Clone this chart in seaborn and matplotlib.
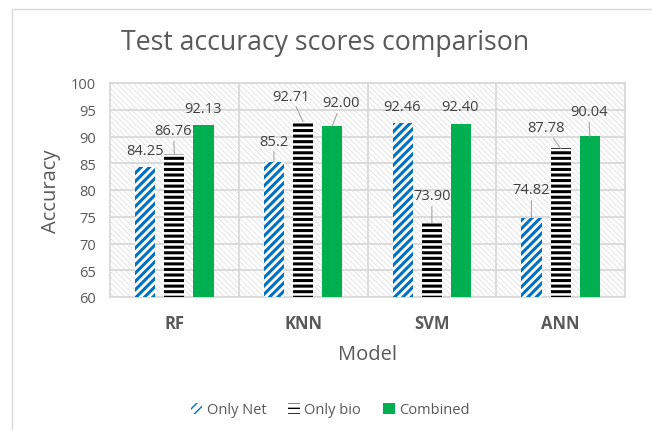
import pandas as pd
import seaborn as sns
import matplotlib.pyplot as plt
import matplotlib.patches as mpatches

models = ["RF", "KNN", "SVM", "ANN"]
series = ["Only Net", "Only bio", "Combined"]
only_net = [84.25, 85.2, 92.46, 74.82]
only_bio = [86.76, 92.71, 73.90, 87.78]
combined = [92.13, 92.00, 92.40, 90.04]
label_text = {
    "Only Net": ["84.25", "85.2", "92.46", "74.82"],
    "Only bio": ["86.76", "92.71", "73.90", "87.78"],
    "Combined": ["92.13", "92.00", "92.40", "90.04"],
}

df = pd.DataFrame({"Model": models * 3,
                   "Series": [s for s in series for _ in models],
                   "Accuracy": only_net + only_bio + combined})

# label offsets in pixels (dx, dy) from top centre of each bar, and leader flag
offsets = {
    "Only Net": [(0, 17, False), (0, 21, True), (-1, 17, False), (0, 28, True)],
    "Only bio": [(-1, 23, True), (-12, 26, True), (0, 27, True), (-15, 21, True)],
    "Combined": [(-1, 17, False), (9, 23, True), (-1, 17, False), (-1, 25, True)],
}

sns.set_style("white")
plt.rcParams['font.family'] = ['Open Sans', 'DejaVu Sans']
grey = "#595959"

fig = plt.figure(figsize=(6.52, 4.31), dpi=100)
ax = fig.add_axes([110 / 652, 1 - 298 / 431, (625 - 110) / 652, (298 - 84) / 431])

# hatched plot area background
with plt.rc_context({'hatch.linewidth': 0.5, 'hatch.color': '#dcdcdc'}):
    bg = mpatches.Rectangle((0, 0), 1, 1, transform=ax.transAxes, facecolor='white',
                            edgecolor='#dcdcdc', hatch='\\\\\\\\\\\\', lw=0, zorder=0)
    ax.add_patch(bg)

colors = {"Only Net": "white", "Only bio": "white", "Combined": "#00B050"}
sns.barplot(data=df, x="Model", y="Accuracy", hue="Series", order=models,
            hue_order=series, palette=colors, width=0.68, gap=0.31, saturation=1,
            ax=ax, legend=False, zorder=3, linewidth=0)

hatches = {"Only Net": "////", "Only bio": "---", "Combined": None}
edges = {"Only Net": "#0070C0", "Only bio": "black", "Combined": "#00B050"}
for cont, s in zip(ax.containers, series):
    for bar in cont:
        if hatches[s]:
            bar.set_hatch(hatches[s])
            bar.set_edgecolor(edges[s])
            bar.set_linewidth(0)
            try:
                bar.set_hatch_linewidth(2.2)
            except AttributeError:
                pass
    for i, bar in enumerate(cont):
        dx, dy, leader = offsets[s][i]
        x = bar.get_x() + bar.get_width() / 2
        y = bar.get_height()
        ax.annotate(label_text[s][i], xy=(x, y), xytext=(dx * 0.72, dy * 0.72),
                    textcoords='offset points', ha='center', va='center',
                    fontsize=10.5, color='#404040', zorder=5,
                    arrowprops=dict(arrowstyle='-', color='#a6a6a6', lw=0.8,
                                    shrinkA=0, shrinkB=0) if leader else None)

ax.set_ylim(60, 100)
ax.set_xlim(-0.5, 3.5)
ax.set_yticks(range(60, 101, 5))
ax.yaxis.grid(True, color='#d9d9d9', lw=1.3, zorder=1)
ax.set_xticks([0.5, 1.5, 2.5], minor=True)
ax.xaxis.grid(True, which='minor', color='#d9d9d9', lw=1.3, zorder=1)
ax.set_axisbelow(True)
for sp in ax.spines.values():
    sp.set_color('#d9d9d9')
    sp.set_linewidth(1.3)
ax.tick_params(axis='y', length=0, pad=10, labelsize=10.5, labelcolor=grey)
ax.tick_params(axis='x', which='both', length=0, pad=12, labelsize=12, labelcolor=grey)
for t in ax.get_xticklabels():
    t.set_fontweight('bold')
ax.set_xlabel("Model", fontsize=14.5, color=grey, labelpad=9)
ax.set_ylabel("Accuracy", fontsize=14.5, color=grey, labelpad=7)

fig.text(325 / 652, 1 - 43 / 431, "Test accuracy scores comparison", ha='center',
         va='center', fontsize=19.2, color=grey)

handles = []
for s in series:
    p = mpatches.Patch(facecolor=colors[s], edgecolor=edges[s], hatch=hatches[s], lw=0)
    handles.append(p)
fig.legend(handles, series, loc='center', bbox_to_anchor=(330 / 652, 1 - 411 / 431),
           ncol=3, frameon=False, fontsize=10.5, labelcolor=grey, handlelength=0.8,
           handleheight=0.8, columnspacing=1.5, handletextpad=0.3)

fig.patches.append(mpatches.Rectangle((12 / 652, -0.01), 1.0, 1 - 10 / 431 + 0.01,
                                      transform=fig.transFigure, fill=False,
                                      edgecolor='#d9d9d9', lw=1))

fig.savefig("out.png", dpi=100)
